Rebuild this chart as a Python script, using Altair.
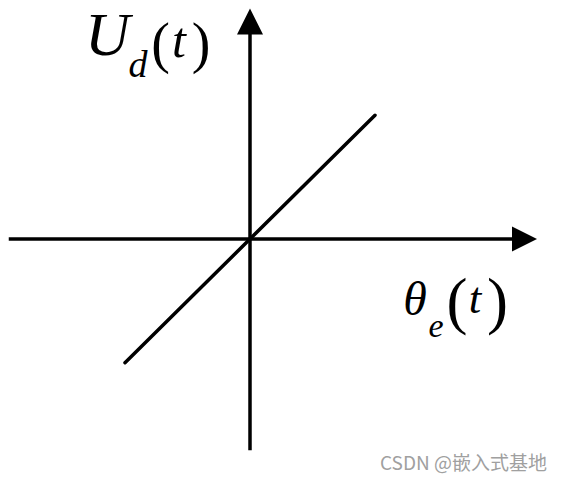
import altair as alt
import pandas as pd

# ---- data (diagram units: origin at the axes' crossing) ----
line_theta = [-1.0, 1.0]
line_u = [-0.99, 0.99]

h_axis_theta = [-1.93, 2.12]
v_axis_u = [-1.69, 1.67]

# glyph annotations: text, x, y
u_label_text = ["U", "d", "(", "t", ")"]
u_label_x = [-1.14, -0.896, -0.716, -0.568, -0.392]
u_label_y = [1.472, 1.296, 1.416, 1.456, 1.416]

th_label_text = ["θ", "e", "(", "t", ")"]
th_label_x = [1.32, 1.488, 1.656, 1.80, 1.98]
th_label_y = [-0.608, -0.784, -0.664, -0.592, -0.664]

watermark = "CSDN @嵌入式基地"

X = alt.Scale(domain=[-1.936, 2.448])
Y = alt.Scale(domain=[-1.928, 1.848])

SERIF = "Liberation Serif"


def xy():
    return dict(
        x=alt.X("x:Q", scale=X, axis=None),
        y=alt.Y("y:Q", scale=Y, axis=None),
    )


line_df = pd.DataFrame({"x": line_theta, "y": line_u})
diag = alt.Chart(line_df).mark_line(color="black", strokeWidth=3.5, strokeCap="round").encode(**xy())

hax_df = pd.DataFrame({"x": h_axis_theta, "y": [0, 0]})
hax = alt.Chart(hax_df).mark_line(color="black", strokeWidth=3.5).encode(**xy())

vax_df = pd.DataFrame({"x": [0, 0], "y": v_axis_u})
vax = alt.Chart(vax_df).mark_line(color="black", strokeWidth=3.5, orient="vertical").encode(
    x=alt.X("x:Q", scale=X, axis=None), y=alt.Y("y:Q", scale=Y, axis=None), order=alt.Order("y:Q")
)

right_head = alt.Chart(pd.DataFrame({"x": [2.196], "y": [0.0]})).mark_point(
    shape="M1,0L-1,-1L-1,1Z", size=625, filled=True, color="black", opacity=1
).encode(**xy())

up_head = alt.Chart(pd.DataFrame({"x": [0.0], "y": [1.74]})).mark_point(
    shape="M0,-1L1,1L-1,1Z", size=676, filled=True, color="black", opacity=1
).encode(**xy())


def glyph(text, x, y, size, italic):
    return alt.Chart(pd.DataFrame({"t": [text], "x": [x], "y": [y]})).mark_text(
        font=SERIF,
        fontStyle="italic" if italic else "normal",
        fontSize=size,
        align="center",
        baseline="alphabetic",
        color="black",
    ).encode(text="t:N", **xy())


u_sizes = [62, 38, 56, 50, 56]
u_ital = [True, True, False, True, False]
th_sizes = [48, 34, 63, 45, 63]
th_ital = [True, True, False, True, False]

glyphs = []
for t, x, y, s, it in zip(u_label_text, u_label_x, u_label_y, u_sizes, u_ital):
    glyphs.append(glyph(t, x, y, s, it))
for t, x, y, s, it in zip(th_label_text, th_label_x, th_label_y, th_sizes, th_ital):
    glyphs.append(glyph(t, x, y, s, it))

wm = alt.Chart(pd.DataFrame({"t": [watermark], "x": [2.376], "y": [-1.848]})).mark_text(
    font="Noto Sans CJK SC", fontSize=19, align="right", baseline="alphabetic", color="#a0a0a0"
).encode(text="t:N", **xy())

chart = alt.layer(hax, vax, diag, right_head, up_head, *glyphs, wm).properties(
    width=548, height=472, padding=0, background="white",
    autosize=alt.AutoSizeParams(type="none"),
).configure_view(stroke=None)

chart.save("out.html", embed_options={"renderer": "svg", "actions": False})
